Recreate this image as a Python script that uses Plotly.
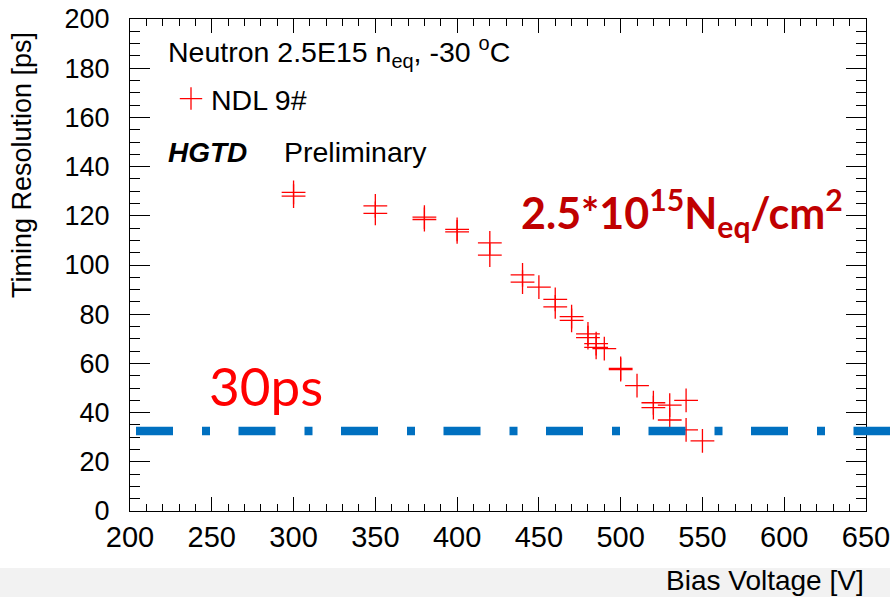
import plotly.graph_objects as go

# ---- data ----
bias_voltage = [300, 300, 350, 350, 380, 380, 400, 400, 420, 420, 440, 440, 450,
                460, 460, 470, 470, 480, 480, 485, 485, 490, 500, 500, 510,
                520, 520, 530, 530, 540, 540, 550]
timing_res = [129.5, 128, 124, 121, 119.5, 118.5, 114.5, 113.5, 109, 104, 96, 93, 91,
              86, 83, 79, 77.5, 72, 70.5, 68, 66.5, 66, 58, 57.5, 51,
              44, 42, 43, 37, 45, 33, 28.5]
series_name = "NDL 9#"
threshold_ps = 32.5
x_range = [200, 650]
y_range = [0, 200]

W, H = 890, 597
L, R, T, B = 130, 24, 19, 86
pw, ph = W - L - R, H - T - B


def px(xp):
    return (xp - L) / pw


def py(yp):
    return (H - B - yp) / ph


fig = go.Figure()
fig.add_trace(go.Scatter(
    x=bias_voltage, y=timing_res, mode="markers", name=series_name,
    marker=dict(symbol="cross-thin", size=17, color="#ff0000",
                line=dict(color="#ff0000", width=1.3)),
    showlegend=True,
))

axis_common = dict(showline=True, linecolor="black", linewidth=1, mirror="ticks",
                   ticks="inside", tickcolor="black", showgrid=False, zeroline=False,
                   automargin=False)

fig.update_xaxes(range=x_range, dtick=50, tick0=200, ticklen=14, tickwidth=1,
                 minor=dict(ticks="inside", dtick=10, ticklen=7, tickcolor="black"),
                 tickfont=dict(family="Liberation Sans, Arial", size=29, color="black"),
                 ticklabeloverflow="allow",
                 **axis_common)
fig.update_yaxes(range=y_range, dtick=20, tick0=0, ticklen=20, tickwidth=1,
                 minor=dict(ticks="inside", dtick=5, ticklen=10, tickcolor="black"),
                 tickfont=dict(family="Liberation Sans, Arial", size=27, color="black"),
                 ticklabelstandoff=14,
                 **axis_common)

# threshold dash-dot line
fig.add_shape(type="line", xref="paper", yref="y", x0=px(136), x1=px(890),
              y0=threshold_ps, y1=threshold_ps,
              line=dict(color="#0070c0", width=8.5, dash="37px,29px,8px,28.5px"))

# grey band at bottom
fig.add_shape(type="rect", xref="paper", yref="paper", x0=px(-5), x1=px(895),
              y0=py(605), y1=py(568), fillcolor="#f2f2f2", line=dict(width=0),
              layer="below")

font = "Liberation Sans, Arial"
ann = []
ann.append(dict(text="Neutron 2.5E15 n<sub>eq</sub>, -30 <sup>o</sup>C", x=px(166), y=py(52),
                xanchor="left", yanchor="middle", font=dict(family=font, size=28.5, color="black")))
ann.append(dict(text="<b><i>HGTD</i></b>", x=px(166), y=py(152), xanchor="left", yanchor="middle",
                font=dict(family=font, size=28, color="black")))
ann.append(dict(text="Preliminary", x=px(282), y=py(152), xanchor="left", yanchor="middle",
                font=dict(family=font, size=28.5, color="black")))
ann.append(dict(text="<b>2.5*10<sup>15</sup>N<sub>eq</sub>/cm<sup>2</sup></b>", x=px(519), y=py(212),
                xanchor="left", yanchor="middle", font=dict(family="Lato, Open Sans", size=43, color="#c00000")))
ann.append(dict(text="30ps", x=px(207), y=py(386), xanchor="left", yanchor="middle",
                font=dict(family="Lato, Open Sans", size=53, color="#ff0000")))
ann.append(dict(text="Timing Resolution [ps]", x=px(22), y=py(30), xanchor="center", yanchor="top",
                textangle=-90, font=dict(family=font, size=27, color="black")))
ann.append(dict(text="Bias Voltage [V]", x=px(866), y=py(580), xanchor="right", yanchor="middle",
                font=dict(family=font, size=28, color="black")))
for a in ann:
    a.update(xref="paper", yref="paper", showarrow=False)
fig.update_layout(annotations=ann)

fig.update_layout(
    width=W, height=H, margin=dict(l=L, r=R, t=T, b=B, pad=0, autoexpand=False),
    paper_bgcolor="white", plot_bgcolor="white",
    legend=dict(x=px(171), y=py(99), xanchor="left", yanchor="middle",
                bgcolor="rgba(0,0,0,0)", font=dict(family=font, size=28.5, color="black"),
                itemwidth=30),
)

fig.write_html("out.html")
